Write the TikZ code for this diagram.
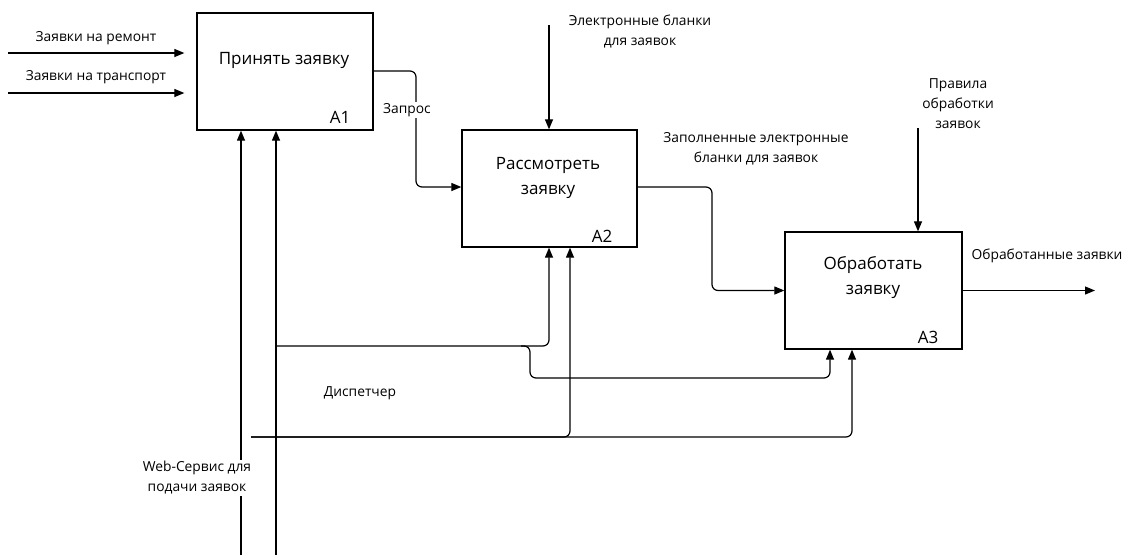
\documentclass[tikz,border=0pt]{standalone}
\usepackage{fontspec}
\setmainfont{Open Sans}
\usetikzlibrary{arrows.meta}
\begin{document}
\begin{tikzpicture}[x=1pt,y=-1pt,
  box/.style={draw, line width=1.3pt, minimum width=#1, minimum height=117pt, inner sep=0pt},
  flow/.style={line width=1.2pt, rounded corners=6pt, -{Triangle[length=10pt,width=8pt]}},
  lbl/.style={font=\fontsize{13.8}{20}\selectfont, align=center, inner sep=1pt},
  ttl/.style={font=\fontsize{17}{25}\selectfont, align=center, inner sep=0pt},
  num/.style={font=\fontsize{17}{18}\selectfont, inner sep=0pt}]
\useasboundingbox (0,0) rectangle (1128,555);

% boxes
\node[box=176pt] (A1) at (285,71.5) {};
\node[box=175pt] (A2) at (549.5,188.5) {};
\node[box=177pt] (A3) at (873.5,290.5) {};
\node[ttl] (t1) at (284,60) {Принять заявку};
\node[ttl] (t2) at (548,177.5) {Рассмотреть\\заявку};
\node[ttl] (t3) at (873,278) {Обработать\\заявку};
\node[num] (n1) at (340,117) {A1};
\node[num] (n2) at (602,236) {A2};
\node[num] (n3) at (928,337) {A3};

% inputs of A1
\coordinate (i1) at (8,53);
\coordinate (i2) at (8,93);
\draw[flow, shorten >=12pt] (i1) -- (i1 -| A1.west);
\draw[flow, shorten >=12pt] (i2) -- (i2 -| A1.west);

% A1 -> A2
\coordinate (q1) at (416,71);
\coordinate (q2) at (416,187);
\draw[flow] (A1.east |- q1) -- (q1) -- (q2) -- (q2 -| A2.west);

% A2 -> A3
\coordinate (o2) at (712,187);
\draw[flow] (A2.east |- o2) -- (o2) -- (o2 |- A3.west) -- (A3.west);

% output A3
\coordinate (o3) at (1095,290);
\draw[flow] (A3.east) -- (o3 |- A3.east);

% controls
\coordinate (c2) at (549,25);
\draw[flow] (c2) -- (c2 |- A2.north);
\coordinate (c3) at (918,128);
\draw[flow] (c3) -- (c3 |- A3.north);

% mechanisms
\coordinate (w0) at (241,555);
\draw[flow] (w0) -- (w0 |- A1.south);
\coordinate (d0) at (276,555);
\draw[flow] (d0) -- (d0 |- A1.south);
\coordinate (d1) at (276,346);
\coordinate (d2) at (549,346);
\draw[flow] (d1) -- (d2) -- (d2 |- A2.south);
\coordinate (d3) at (521,346);
\coordinate (d4) at (530,378);
\coordinate (d5) at (830,378);
\draw[flow] (d3) -- (d3 -| d4) -- (d4) -- (d5) -- (d5 |- A3.south);
\coordinate (e0) at (251,437);
\coordinate (e1) at (570,437);
\coordinate (e2) at (852,437);
\draw[flow] (e0) -- (e2) -- (e2 |- A3.south);
\draw[flow] (e0) -- (e1) -- (e1 |- A2.south);

% labels
\node[lbl] (l1) at (96,38) {Заявки на ремонт};
\node[lbl] (l2) at (96,77) {Заявки на транспорт};
\node[lbl, fill=white] (lq) at (407,110) {Запрос};
\node[lbl] (l3) at (640,31) {Электронные бланки\\для заявок};
\node[lbl] (l4) at (756,149) {Заполненные электронные\\бланки для заявок};
\node[lbl] (l5) at (958,104) {Правила\\обработки\\заявок};
\node[lbl] (l6) at (1047,256) {Обработанные заявки};
\node[lbl] (l7) at (360,393) {Диспетчер};
\node[lbl, fill=white] (l8) at (197,478) {Web-Сервис для\\подачи заявок};
\end{tikzpicture}
\end{document}
